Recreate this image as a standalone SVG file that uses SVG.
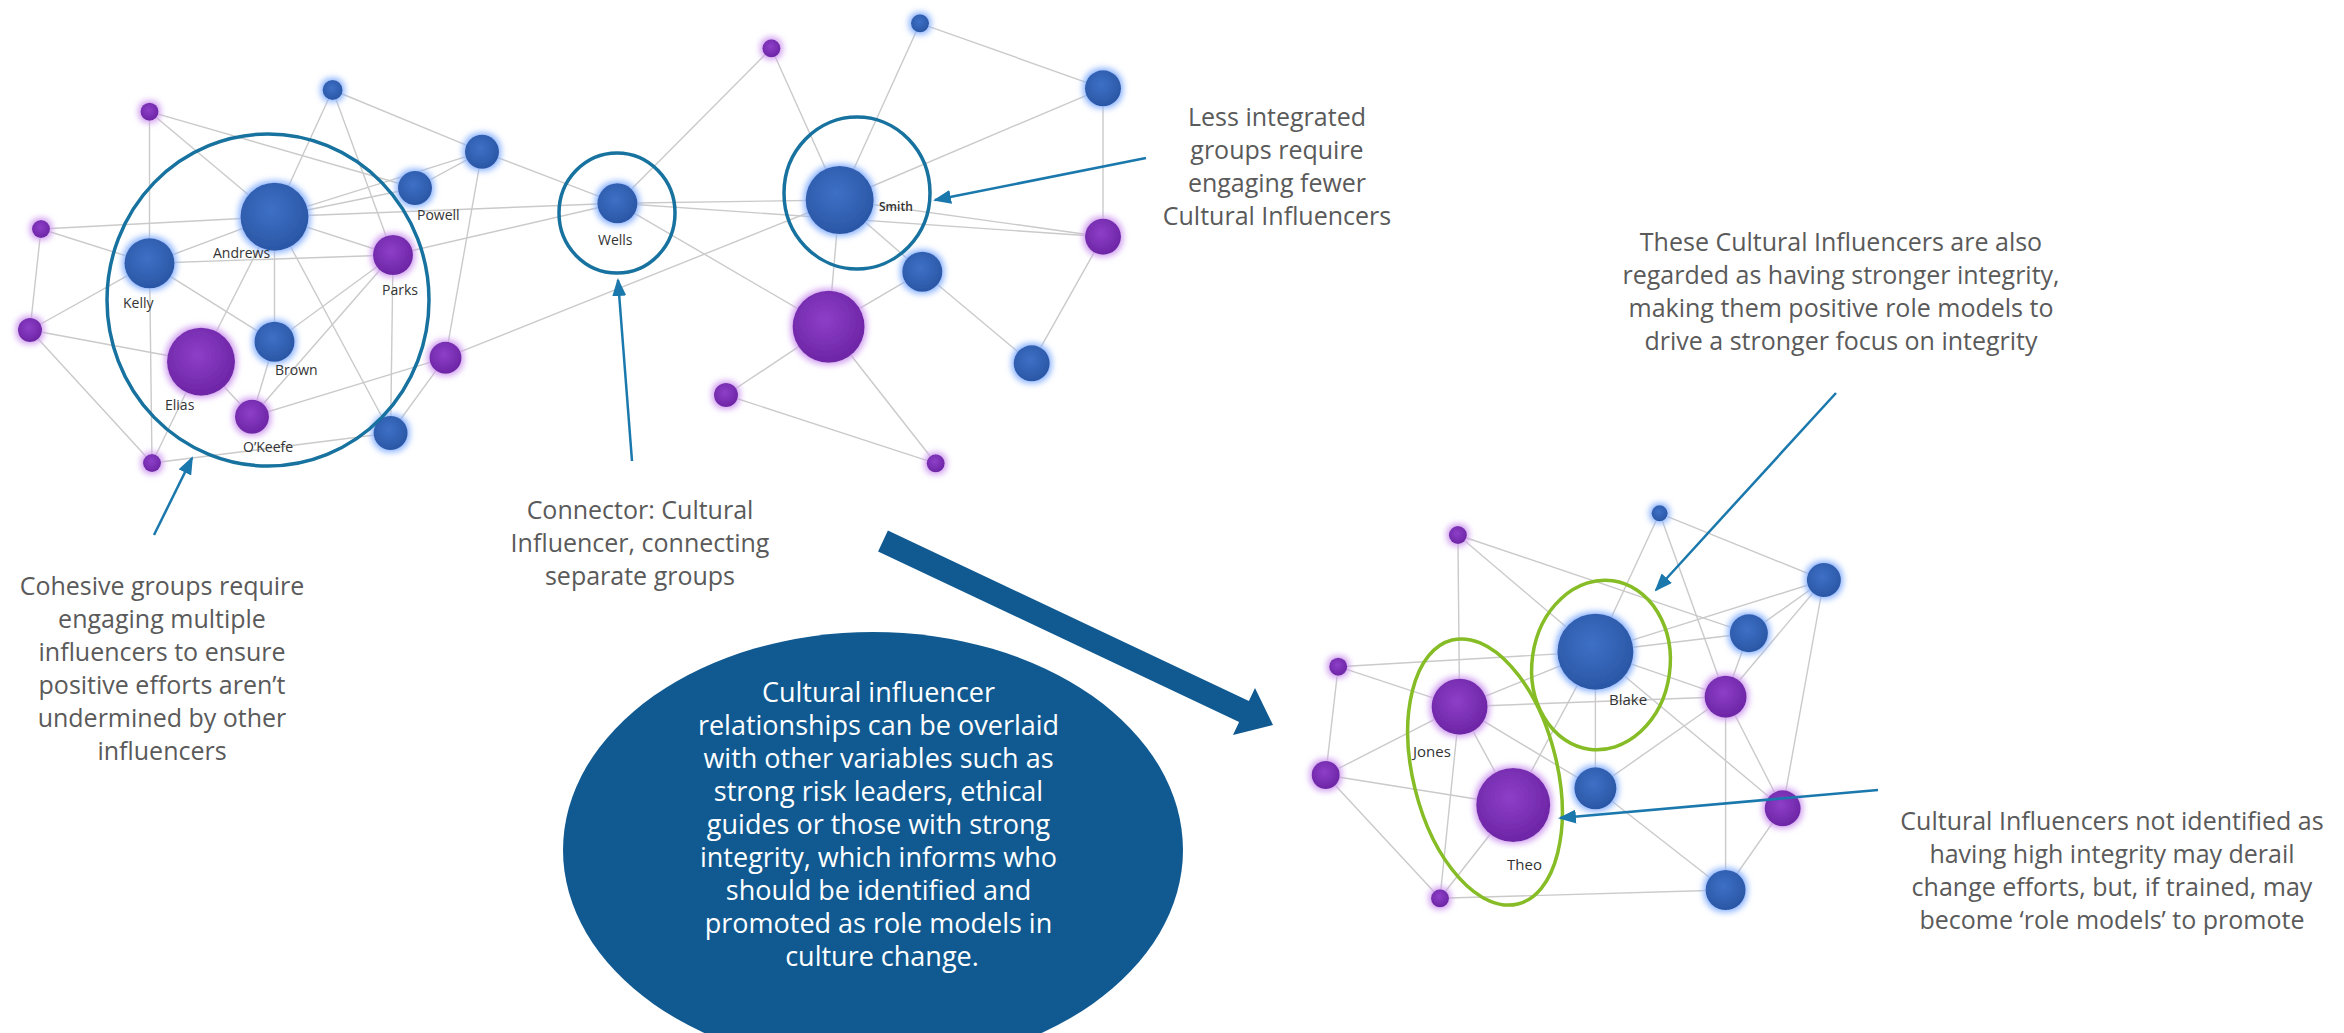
<svg xmlns="http://www.w3.org/2000/svg" width="2344" height="1033" viewBox="0 0 2344 1033">
<defs>
<radialGradient id="gB" cx="45%" cy="40%" r="62%"><stop offset="0" stop-color="#3d70c6"/><stop offset="1" stop-color="#2a56a4"/></radialGradient>
<radialGradient id="gP" cx="45%" cy="40%" r="62%"><stop offset="0" stop-color="#8d3fc8"/><stop offset="1" stop-color="#6c24a4"/></radialGradient>
<filter id="fB" x="-60%" y="-60%" width="220%" height="220%">
<feMorphology in="SourceAlpha" operator="dilate" radius="2" result="d"/>
<feGaussianBlur in="d" stdDeviation="3" result="bl"/>
<feFlood flood-color="#86b0ff"/>
<feComposite in2="bl" operator="in" result="g"/>
<feMerge><feMergeNode in="g"/><feMergeNode in="SourceGraphic"/></feMerge>
</filter>
<filter id="fP" x="-60%" y="-60%" width="220%" height="220%">
<feMorphology in="SourceAlpha" operator="dilate" radius="2" result="d"/>
<feGaussianBlur in="d" stdDeviation="3" result="bl"/>
<feFlood flood-color="#cf9af0"/>
<feComposite in2="bl" operator="in" result="g"/>
<feMerge><feMergeNode in="g"/><feMergeNode in="SourceGraphic"/></feMerge>
</filter>
<marker id="ah" markerWidth="18" markerHeight="14" refX="16" refY="7" orient="auto" markerUnits="userSpaceOnUse"><path d="M0,0 L18,7 L0,14 Z" fill="#1a78ad"/></marker>
</defs>
<style>
.e{stroke:#cacaca;stroke-width:1.4;fill:none}
.b{fill:url(#gB);filter:url(#fB)}
.p{fill:url(#gP);filter:url(#fP)}
.lb{font-family:"Open Sans","Liberation Sans",sans-serif;font-size:14px;fill:#333}
.t{font-family:"Open Sans","Liberation Sans",sans-serif;font-size:25px;fill:#5a5a5a;text-anchor:middle}
.w{font-family:"Open Sans","Liberation Sans",sans-serif;font-size:27px;fill:#ffffff;text-anchor:middle}
.ring{fill:none;stroke:#17729f;stroke-width:3.5}
.gr{fill:none;stroke:#86bc25;stroke-width:3.5}
.ar{stroke:#1a78ad;stroke-width:2.5;fill:none;marker-end:url(#ah)}
</style>
<rect width="2344" height="1033" fill="#ffffff"/>

<g id="connectors">
<line class="e" x1="149.5" y1="111.7" x2="149.5" y2="263.3"/>
<line class="e" x1="149.5" y1="111.7" x2="274.5" y2="216.7"/>
<line class="e" x1="149.5" y1="111.7" x2="415" y2="188"/>
<line class="e" x1="332.6" y1="90" x2="274.5" y2="216.7"/>
<line class="e" x1="332.6" y1="90" x2="482" y2="151.7"/>
<line class="e" x1="332.6" y1="90" x2="393" y2="255"/>
<line class="e" x1="41" y1="229" x2="274.5" y2="216.7"/>
<line class="e" x1="41" y1="229" x2="149.5" y2="263.3"/>
<line class="e" x1="41" y1="229" x2="30" y2="330"/>
<line class="e" x1="30" y1="330" x2="149.5" y2="263.3"/>
<line class="e" x1="30" y1="330" x2="201" y2="361.7"/>
<line class="e" x1="30" y1="330" x2="152" y2="463"/>
<line class="e" x1="149.5" y1="263.3" x2="274.5" y2="216.7"/>
<line class="e" x1="149.5" y1="263.3" x2="393" y2="255"/>
<line class="e" x1="149.5" y1="263.3" x2="274.5" y2="341.7"/>
<line class="e" x1="149.5" y1="263.3" x2="152" y2="463"/>
<line class="e" x1="274.5" y1="216.7" x2="415" y2="188"/>
<line class="e" x1="274.5" y1="216.7" x2="482" y2="151.7"/>
<line class="e" x1="274.5" y1="216.7" x2="393" y2="255"/>
<line class="e" x1="274.5" y1="216.7" x2="274.5" y2="341.7"/>
<line class="e" x1="274.5" y1="216.7" x2="201" y2="361.7"/>
<line class="e" x1="274.5" y1="216.7" x2="390.6" y2="433"/>
<line class="e" x1="274.5" y1="216.7" x2="617.4" y2="203.3"/>
<line class="e" x1="393" y1="255" x2="274.5" y2="341.7"/>
<line class="e" x1="393" y1="255" x2="252" y2="416.7"/>
<line class="e" x1="393" y1="255" x2="390.6" y2="433"/>
<line class="e" x1="393" y1="255" x2="617.4" y2="203.3"/>
<line class="e" x1="415" y1="188" x2="482" y2="151.7"/>
<line class="e" x1="482" y1="151.7" x2="445.5" y2="357.7"/>
<line class="e" x1="482" y1="151.7" x2="617.4" y2="203.3"/>
<line class="e" x1="445.5" y1="357.7" x2="252" y2="416.7"/>
<line class="e" x1="445.5" y1="357.7" x2="390.6" y2="433"/>
<line class="e" x1="274.5" y1="341.7" x2="252" y2="416.7"/>
<line class="e" x1="201" y1="361.7" x2="252" y2="416.7"/>
<line class="e" x1="201" y1="361.7" x2="152" y2="463"/>
<line class="e" x1="152" y1="463" x2="390.6" y2="433"/>
<line class="e" x1="445.5" y1="357.7" x2="839.7" y2="200"/>
<line class="e" x1="617.4" y1="203.3" x2="839.7" y2="200"/>
<line class="e" x1="617.4" y1="203.3" x2="1103" y2="236.7"/>
<line class="e" x1="617.4" y1="203.3" x2="771.4" y2="48.3"/>
<line class="e" x1="617.4" y1="203.3" x2="828.6" y2="326.7"/>
<line class="e" x1="771.4" y1="48.3" x2="839.7" y2="200"/>
<line class="e" x1="920" y1="23.3" x2="839.7" y2="200"/>
<line class="e" x1="920" y1="23.3" x2="1103" y2="88.3"/>
<line class="e" x1="1103" y1="88.3" x2="839.7" y2="200"/>
<line class="e" x1="1103" y1="88.3" x2="1103" y2="236.7"/>
<line class="e" x1="839.7" y1="200" x2="1103" y2="236.7"/>
<line class="e" x1="839.7" y1="200" x2="828.6" y2="326.7"/>
<line class="e" x1="839.7" y1="200" x2="922.3" y2="271.7"/>
<line class="e" x1="922.3" y1="271.7" x2="828.6" y2="326.7"/>
<line class="e" x1="922.3" y1="271.7" x2="1031.7" y2="363.3"/>
<line class="e" x1="1031.7" y1="363.3" x2="1103" y2="236.7"/>
<line class="e" x1="828.6" y1="326.7" x2="726" y2="395"/>
<line class="e" x1="828.6" y1="326.7" x2="935.7" y2="463.3"/>
<line class="e" x1="726" y1="395" x2="935.7" y2="463.3"/>

<line class="e" x1="1457.9" y1="535" x2="1459.6" y2="706.7"/>
<line class="e" x1="1457.9" y1="535" x2="1595.4" y2="651.7"/>
<line class="e" x1="1457.9" y1="535" x2="1748.9" y2="633.3"/>
<line class="e" x1="1659.6" y1="513.3" x2="1595.4" y2="651.7"/>
<line class="e" x1="1659.6" y1="513.3" x2="1823.9" y2="580"/>
<line class="e" x1="1659.6" y1="513.3" x2="1725.6" y2="696.7"/>
<line class="e" x1="1338.2" y1="666.7" x2="1595.4" y2="651.7"/>
<line class="e" x1="1595.4" y1="651.7" x2="1823.9" y2="580"/>
<line class="e" x1="1823.9" y1="580" x2="1748.9" y2="633.3"/>
<line class="e" x1="1823.9" y1="580" x2="1725.6" y2="696.7"/>
<line class="e" x1="1823.9" y1="580" x2="1782.7" y2="808.3"/>
<line class="e" x1="1748.9" y1="633.3" x2="1595.4" y2="651.7"/>
<line class="e" x1="1748.9" y1="633.3" x2="1725.6" y2="696.7"/>
<line class="e" x1="1338.2" y1="666.7" x2="1459.6" y2="706.7"/>
<line class="e" x1="1338.2" y1="666.7" x2="1325.7" y2="775"/>
<line class="e" x1="1459.6" y1="706.7" x2="1595.4" y2="651.7"/>
<line class="e" x1="1459.6" y1="706.7" x2="1725.6" y2="696.7"/>
<line class="e" x1="1459.6" y1="706.7" x2="1595.4" y2="788.3"/>
<line class="e" x1="1459.6" y1="706.7" x2="1513.2" y2="805"/>
<line class="e" x1="1459.6" y1="706.7" x2="1325.7" y2="775"/>
<line class="e" x1="1459.6" y1="706.7" x2="1440" y2="898.3"/>
<line class="e" x1="1325.7" y1="775" x2="1513.2" y2="805"/>
<line class="e" x1="1325.7" y1="775" x2="1440" y2="898.3"/>
<line class="e" x1="1440" y1="898.3" x2="1513.2" y2="805"/>
<line class="e" x1="1440" y1="898.3" x2="1725.6" y2="890"/>
<line class="e" x1="1513.2" y1="805" x2="1595.4" y2="651.7"/>
<line class="e" x1="1595.4" y1="651.7" x2="1595.4" y2="788.3"/>
<line class="e" x1="1595.4" y1="651.7" x2="1725.6" y2="696.7"/>
<line class="e" x1="1595.4" y1="651.7" x2="1782.7" y2="808.3"/>
<line class="e" x1="1595.4" y1="788.3" x2="1725.6" y2="696.7"/>
<line class="e" x1="1595.4" y1="788.3" x2="1725.6" y2="890"/>
<line class="e" x1="1725.6" y1="696.7" x2="1725.6" y2="890"/>
<line class="e" x1="1725.6" y1="696.7" x2="1782.7" y2="808.3"/>
<line class="e" x1="1725.6" y1="890" x2="1782.7" y2="808.3"/>
</g>

<g id="nodes-top">
<g id="n-andrews"><circle class="b" cx="274.5" cy="216.7" r="34"/><text class="lb" x="213" y="258">Andrews</text></g>
<g id="n-kelly"><circle class="b" cx="149.5" cy="263.3" r="25"/><text class="lb" x="123" y="308">Kelly</text></g>
<g id="n-elias"><circle class="p" cx="201" cy="361.7" r="34"/><text class="lb" x="165" y="410">Elias</text></g>
<g id="n-brown"><circle class="b" cx="274.5" cy="341.7" r="20"/><text class="lb" x="275" y="375">Brown</text></g>
<g id="n-okeefe"><circle class="p" cx="252" cy="416.7" r="17"/><text class="lb" x="243" y="452">O’Keefe</text></g>
<g id="n-parks"><circle class="p" cx="393" cy="255" r="20"/><text class="lb" x="382" y="295">Parks</text></g>
<g id="n-powell"><circle class="b" cx="415" cy="188" r="17"/><text class="lb" x="417" y="220">Powell</text></g>
<g id="n-8"><circle class="b" cx="482" cy="151.7" r="17"/></g>
<g id="n-9"><circle class="b" cx="332.6" cy="90" r="10"/></g>
<g id="n-10"><circle class="p" cx="149.5" cy="111.7" r="9"/></g>
<g id="n-11"><circle class="p" cx="41" cy="229" r="9"/></g>
<g id="n-12"><circle class="p" cx="30" cy="330" r="12"/></g>
<g id="n-13"><circle class="p" cx="152" cy="463" r="9"/></g>
<g id="n-14"><circle class="p" cx="445.5" cy="357.7" r="16"/></g>
<g id="n-15"><circle class="b" cx="390.6" cy="433" r="17"/></g>
<g id="n-wells"><circle class="b" cx="617.4" cy="203.3" r="20"/><text class="lb" x="598" y="245">Wells</text></g>
<g id="n-smith"><circle class="b" cx="839.7" cy="200" r="34"/><text class="lb" x="879" y="211" style="font-size:12px;font-weight:600">Smith</text></g>
<g id="n-18"><circle class="p" cx="771.4" cy="48.3" r="9"/></g>
<g id="n-19"><circle class="b" cx="920" cy="23.3" r="9"/></g>
<g id="n-20"><circle class="b" cx="1103" cy="88.3" r="18"/></g>
<g id="n-21"><circle class="p" cx="1103" cy="236.7" r="18"/></g>
<g id="n-22"><circle class="b" cx="922.3" cy="271.7" r="20"/></g>
<g id="n-23"><circle class="p" cx="828.6" cy="326.7" r="36"/></g>
<g id="n-24"><circle class="b" cx="1031.7" cy="363.3" r="18"/></g>
<g id="n-25"><circle class="p" cx="726" cy="395" r="12"/></g>
<g id="n-26"><circle class="p" cx="935.7" cy="463.3" r="9"/></g>
</g>

<g id="nodes-bottom">
<g id="n-27"><circle class="b" cx="1659.6" cy="513.3" r="8"/></g>
<g id="n-28"><circle class="p" cx="1457.9" cy="535" r="9"/></g>
<g id="n-29"><circle class="b" cx="1823.9" cy="580" r="17"/></g>
<g id="n-blake"><circle class="b" cx="1595.4" cy="651.7" r="38"/><text class="lb" x="1609" y="705" style="font-size:15px">Blake</text></g>
<g id="n-31"><circle class="b" cx="1748.9" cy="633.3" r="19"/></g>
<g id="n-32"><circle class="p" cx="1338.2" cy="666.7" r="9"/></g>
<g id="n-jones"><circle class="p" cx="1459.6" cy="706.7" r="28"/><text class="lb" x="1413" y="757" style="font-size:15px">Jones</text></g>
<g id="n-34"><circle class="p" cx="1725.6" cy="696.7" r="21"/></g>
<g id="n-35"><circle class="p" cx="1325.7" cy="775" r="14"/></g>
<g id="n-theo"><circle class="p" cx="1513.2" cy="805" r="37"/><text class="lb" x="1507" y="870" style="font-size:15px">Theo</text></g>
<g id="n-37"><circle class="b" cx="1595.4" cy="788.3" r="21"/></g>
<g id="n-38"><circle class="p" cx="1782.7" cy="808.3" r="18"/></g>
<g id="n-39"><circle class="p" cx="1440" cy="898.3" r="9"/></g>
<g id="n-40"><circle class="b" cx="1725.6" cy="890" r="20"/></g>
</g>

<g id="highlights">
<ellipse class="ring" cx="268" cy="300" rx="161" ry="166"/>
<ellipse class="ring" cx="617" cy="213" rx="58" ry="60"/>
<ellipse class="ring" cx="857" cy="193" rx="73" ry="76"/>
<ellipse class="gr" cx="1601" cy="665" rx="69" ry="85" transform="rotate(8 1601 665)"/>
<ellipse class="gr" cx="1485" cy="772" rx="72" ry="136" transform="rotate(-14 1485 772)"/>
</g>

<g id="callouts">
<line class="ar" x1="154" y1="535" x2="192" y2="458"/>
<line class="ar" x1="632" y1="461" x2="618" y2="280"/>
<line class="ar" x1="1146" y1="158" x2="935" y2="200"/>
<line class="ar" x1="1836" y1="393" x2="1656" y2="590"/>
<line class="ar" x1="1878" y1="790" x2="1560" y2="818"/>
</g>

<g id="big-arrow">
<polygon fill="#105a91" points="887.9,530.6 1248.9,701.1 1255,687.9 1273,725 1233,735.1 1239.1,721.9 878.1,551.4"/>
</g>

<g id="summary">
<ellipse cx="873" cy="850" rx="310" ry="218" fill="#105a91"/>
<text class="w">
<tspan x="882" y="702">Cultural influencer</tspan>
<tspan x="882" dy="33">relationships can be overlaid</tspan>
<tspan x="882" dy="33">with other variables such as</tspan>
<tspan x="882" dy="33">strong risk leaders, ethical</tspan>
<tspan x="882" dy="33">guides or those with strong</tspan>
<tspan x="882" dy="33">integrity, which informs who</tspan>
<tspan x="882" dy="33">should be identified and</tspan>
<tspan x="882" dy="33">promoted as role models in</tspan>
<tspan x="882" dy="33">culture change.</tspan>
</text>
</g>

<g id="notes">
<text class="t"><tspan x="1277" y="126">Less integrated</tspan><tspan x="1277" dy="33">groups require</tspan><tspan x="1277" dy="33">engaging fewer</tspan><tspan x="1277" dy="33">Cultural Influencers</tspan></text>

<text class="t"><tspan x="1841" y="251">These Cultural Influencers are also</tspan><tspan x="1841" dy="33">regarded as having stronger integrity,</tspan><tspan x="1841" dy="33">making them positive role models to</tspan><tspan x="1841" dy="33">drive a stronger focus on integrity</tspan></text>

<text class="t"><tspan x="640" y="519">Connector: Cultural</tspan><tspan x="640" dy="33">Influencer, connecting</tspan><tspan x="640" dy="33">separate groups</tspan></text>

<text class="t"><tspan x="162" y="595">Cohesive groups require</tspan><tspan x="162" dy="33">engaging multiple</tspan><tspan x="162" dy="33">influencers to ensure</tspan><tspan x="162" dy="33">positive efforts aren’t</tspan><tspan x="162" dy="33">undermined by other</tspan><tspan x="162" dy="33">influencers</tspan></text>

<text class="t"><tspan x="2112" y="830">Cultural Influencers not identified as</tspan><tspan x="2112" dy="33">having high integrity may derail</tspan><tspan x="2112" dy="33">change efforts, but, if trained, may</tspan><tspan x="2112" dy="33">become ‘role models’ to promote</tspan></text>
</g>
</svg>
